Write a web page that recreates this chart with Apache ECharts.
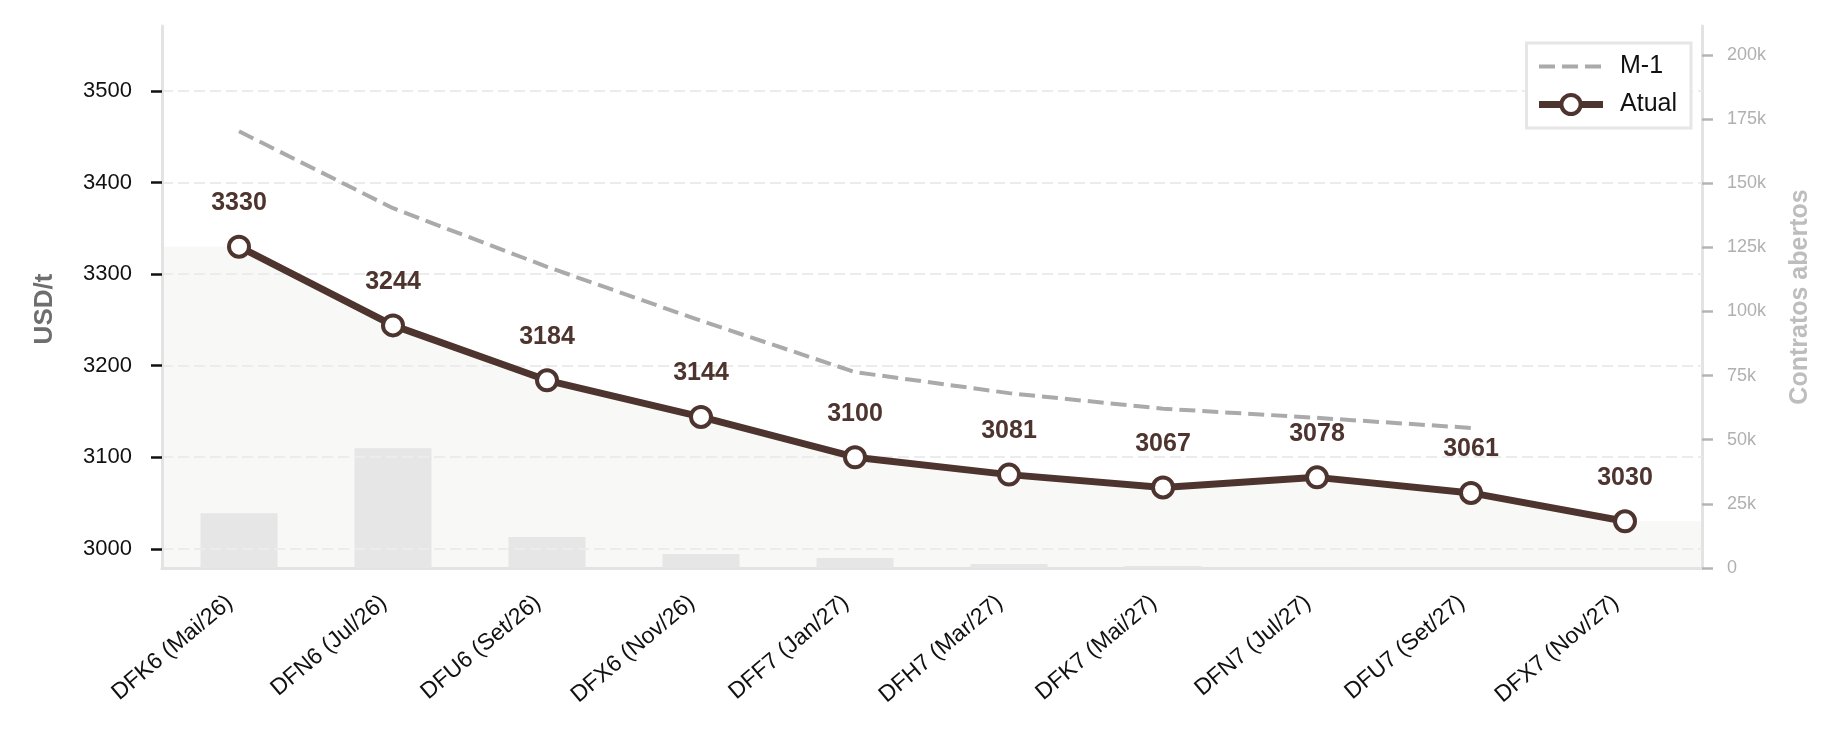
<!DOCTYPE html>
<html>
<head>
<meta charset="utf-8">
<script src="https://cdn.jsdelivr.net/npm/echarts@6/dist/echarts.min.js"></script>
<style>
  html, body { margin: 0; padding: 0; background: #fff; }
  #main { width: 1846px; height: 734px; }
</style>
</head>
<body>
<div id="main"></div>
<script>
const categories = ['DFK6 (Mai/26)', 'DFN6 (Jul/26)', 'DFU6 (Set/26)', 'DFX6 (Nov/26)', 'DFF7 (Jan/27)',
    'DFH7 (Mar/27)', 'DFK7 (Mai/27)', 'DFN7 (Jul/27)', 'DFU7 (Set/27)', 'DFX7 (Nov/27)'];
const atual = [3330, 3244, 3184, 3144, 3100, 3081, 3067, 3078, 3061, 3030];
const m1 = [3456, 3372, 3308, 3249, 3193, 3170, 3153, 3143, 3132, null];
const contratos = [21300, 46700, 12100, 5500, 3900, 1600, 800, 300, 100, 50];
const precoTicks = [3000, 3100, 3200, 3300, 3400, 3500];
const contratosTicks = [0, 25000, 50000, 75000, 100000, 125000, 150000, 175000, 200000];

const brown = '#4e342e';
const font = '"Liberation Sans", Arial, sans-serif';

// fundo claro sob a curva atual, estendido até as bordas
const fillData = [[-0.5, atual[0]]]
    .concat(atual.map((v, i) => [i, v]))
    .concat([[atual.length - 0.5, atual[atual.length - 1]]]);

const chart = echarts.init(document.getElementById('main'));

const option = {
    animation: false,
    textStyle: { fontFamily: font },
    grid: { left: 162, right: 144, top: 26, bottom: 166 },
    legend: {
        data: [
            { name: 'M-1', itemStyle: { opacity: 0 }, lineStyle: { width: 4 } },
            { name: 'Atual', itemStyle: { color: '#fff', borderColor: brown, borderWidth: 4 }, lineStyle: { width: 7 } }
        ],
        orient: 'vertical',
        right: 155,
        top: 43,
        backgroundColor: '#fff',
        borderColor: '#e6e6e6',
        borderWidth: 3,
        borderRadius: 0,
        padding: [11, 14, 11, 9],
        itemGap: 13,
        itemWidth: 64,
        itemHeight: 24,
        textStyle: { fontSize: 25, color: '#111', fontFamily: font, padding: [0, 0, 0, 12] }
    },
    xAxis: [
        {
            type: 'category',
            data: categories,
            boundaryGap: true,
            axisLine: { onZero: false, lineStyle: { color: '#e3e3e3', width: 3 } },
            axisTick: { alignWithLabel: true, length: 11, lineStyle: { color: '#111', width: 2.5 } },
            axisLabel: { rotate: 40, fontSize: 23, color: '#111', margin: 24, padding: [0, 12, 0, 0], interval: 0 },
            splitLine: { show: false }
        },
        {
            type: 'value',
            min: -0.5,
            max: categories.length - 0.5,
            show: false,
            splitLine: { show: false }
        }
    ],
    yAxis: [
        {
            type: 'value',
            min: 2979,
            max: 3571,
            z: 3,
            name: 'USD/t',
            nameLocation: 'middle',
            nameRotate: 90,
            nameGap: 104,
            nameTextStyle: { fontSize: 26, fontWeight: 'bold', color: '#6e6e6e', padding: [0, 24, 0, 0] },
            axisLine: { show: true, onZero: false, lineStyle: { color: '#e3e3e3', width: 3 } },
            axisTick: { show: true, length: 11, customValues: precoTicks, lineStyle: { color: '#111', width: 2.5 } },
            axisLabel: { fontSize: 22, color: '#111', margin: 30, customValues: precoTicks, formatter: v => String(v) },
            splitLine: { show: true, lineStyle: { color: '#ececec', width: 2, type: [11, 5] } }
        },
        {
            type: 'value',
            min: 0,
            max: 211300,
            position: 'right',
            name: 'Contratos abertos',
            nameLocation: 'middle',
            nameRotate: 90,
            nameGap: 86,
            nameTextStyle: { fontSize: 25, fontWeight: 'bold', color: '#bdbdbd' },
            axisLine: { show: true, onZero: false, lineStyle: { color: '#e3e3e3', width: 3 } },
            axisTick: { show: true, length: 11, customValues: contratosTicks, lineStyle: { color: '#b5b5b5', width: 2.5 } },
            axisLabel: {
                fontSize: 18, color: '#b0b0b0', margin: 25, customValues: contratosTicks,
                formatter: v => v === 0 ? '0' : (v / 1000) + 'k'
            },
            splitLine: { show: false }
        }
    ],
    series: [
        {
            name: 'fundo',
            type: 'line',
            xAxisIndex: 1,
            yAxisIndex: 0,
            data: fillData,
            symbol: 'none',
            silent: true,
            z: 0,
            lineStyle: { width: 0 },
            areaStyle: { color: '#f8f8f6', opacity: 1, origin: 'start' }
        },
        {
            name: 'Contratos',
            type: 'bar',
            xAxisIndex: 0,
            yAxisIndex: 1,
            data: contratos,
            barWidth: '50%',
            z: 1,
            itemStyle: { color: '#e6e6e6' }
        },
        {
            name: 'M-1',
            type: 'line',
            xAxisIndex: 0,
            yAxisIndex: 0,
            data: m1,
            symbol: 'none',
            z: 4,
            lineStyle: { color: '#aaaaaa', width: 4, type: [16, 7] },
            itemStyle: { color: '#aaaaaa' }
        },
        {
            name: 'Atual',
            type: 'line',
            xAxisIndex: 0,
            yAxisIndex: 0,
            data: atual,
            symbol: 'circle',
            symbolSize: 20,
            z: 5,
            lineStyle: { color: brown, width: 7 },
            itemStyle: { color: '#fff', borderColor: brown, borderWidth: 4 },
            label: {
                show: true,
                position: 'top',
                distance: 19,
                fontSize: 25,
                fontWeight: 'bold',
                color: brown
            }
        }
    ]
};

chart.setOption(option);
</script>
</body>
</html>
